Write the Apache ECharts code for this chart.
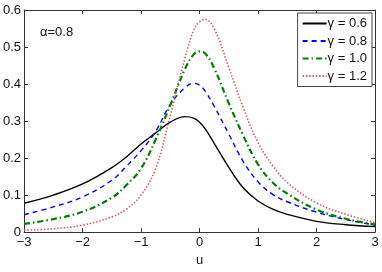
<!DOCTYPE html>
<html><head><meta charset="utf-8">
<script src="https://cdn.jsdelivr.net/npm/echarts@6/dist/echarts.min.js"></script>
<style>html,body{margin:0;padding:0;background:#fff}#c{width:382px;height:272px}</style>
</head><body><div id="c"></div>
<script>
var uValues = [-3,-2.5,-2,-1.5,-1.25,-1,-0.75,-0.5,-0.25,-0.1,0,0.1,0.25,0.5,0.75,1,1.25,1.5,2,2.5,3];
var g06 = [0.078,0.100,0.130,0.174,0.203,0.238,0.268,0.297,0.312,0.308,0.297,0.278,0.240,0.175,0.119,0.084,0.062,0.048,0.029,0.020,0.015];
var g08 = [0.047,0.068,0.095,0.140,0.178,0.220,0.272,0.345,0.390,0.402,0.397,0.380,0.340,0.265,0.190,0.136,0.102,0.082,0.054,0.034,0.019];
var g10 = [0.022,0.035,0.055,0.093,0.127,0.172,0.250,0.343,0.440,0.480,0.488,0.482,0.443,0.348,0.260,0.183,0.134,0.104,0.061,0.036,0.021];
var g12 = [0.005,0.009,0.019,0.041,0.062,0.100,0.172,0.315,0.470,0.545,0.568,0.574,0.550,0.445,0.335,0.242,0.180,0.134,0.079,0.048,0.026];
var seriesNames = ['\u03b3 = 0.6','\u03b3 = 0.8','\u03b3 = 1.0','\u03b3 = 1.2'];
var xTicks = [-3,-2,-1,0,1,2,3];
var yTicks = [0,0.1,0.2,0.3,0.4,0.5,0.6];

function pairs(v){ return uValues.map(function(u,i){ return [u, v[i]]; }); }
var font = 'Liberation Sans, Arial, sans-serif';
var chart = echarts.init(document.getElementById('c'), null, {renderer:'canvas'});
var styles = [
  {color:'#000000', type:'solid', width:1.4},
  {color:'#0000ff', type:[5,4], width:1.4},
  {color:'#007f00', type:[6,3,1.5,3], width:2.2},
  {color:'#d06060', type:[1.5,1.8], width:1.6}
];
var data = [g06,g08,g10,g12];
function axisCommon(){
  return {
    axisLine:{onZero:false,lineStyle:{color:'#333',width:1}},
    axisTick:{inside:true,length:4,lineStyle:{color:'#333'}},
    splitLine:{show:false}
  };
}
chart.setOption({
  animation:false,
  backgroundColor:'#fff',
  grid:{left:21,right:7,top:10,bottom:32},
  xAxis:[
    Object.assign({type:'value',min:-3,max:3,interval:1,position:'bottom',
      name:'u',nameLocation:'middle',nameGap:20,
      nameTextStyle:{color:'#111',fontFamily:font,fontSize:13},
      axisLabel:{color:'#111',fontFamily:font,fontSize:13,margin:4,
        formatter:function(v){return String(v).replace('-','\u2212');}}},axisCommon()),
    Object.assign({type:'value',min:-3,max:3,interval:1,position:'top',axisLabel:{show:false}},axisCommon())
  ],
  yAxis:[
    Object.assign({type:'value',min:0,max:0.6,interval:0.1,position:'left',
      axisLabel:{color:'#111',fontFamily:font,fontSize:13,margin:3,
        formatter:function(v){return String(Math.round(v*10)/10);}}},axisCommon()),
    Object.assign({type:'value',min:0,max:0.6,interval:0.1,position:'right',axisLabel:{show:false}},axisCommon())
  ],
  legend:{
    orient:'vertical',right:10,top:13,
    padding:[4,5,4,4],itemGap:4.5,itemWidth:24,itemHeight:14,
    backgroundColor:'#fff',borderColor:'#444',borderWidth:1,borderRadius:0,
    itemStyle:{opacity:0},
    textStyle:{color:'#111',fontFamily:font,fontSize:13,padding:[0,0,0,-4]},
    data:seriesNames
  },
  graphic:[{type:'text',left:40,top:26,style:{text:'\u03b1=0.8',font:'13px '+font,fill:'#111'}}],
  series:data.map(function(d,i){
    return {name:seriesNames[i],type:'line',data:pairs(d),smooth:0.4,showSymbol:false,symbol:'none',
      lineStyle:styles[i],itemStyle:{color:styles[i].color}};
  })
});
</script></body></html>
